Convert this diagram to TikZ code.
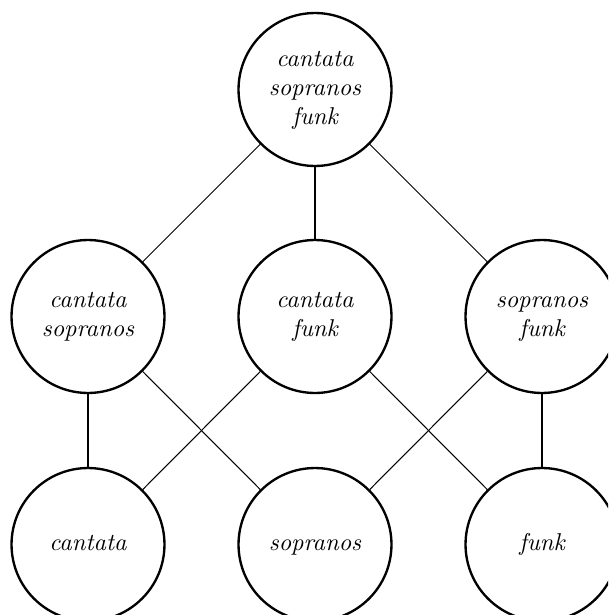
\documentclass[tikz,border=0pt]{standalone}
\begin{document}
\begin{tikzpicture}[x=0.4276pt,y=-0.4276pt,
  setnode/.style={circle,draw,line width=1pt,minimum size=65.4pt,inner sep=0pt,
    align=center,font=\fontsize{10.4}{12.4}\selectfont\itshape},
  link/.style={line width=0.45pt}]
\useasboundingbox (0,0) rectangle (608,615);
\clip (0,0) rectangle (608,615);
% top: the full set
\node[setnode] (csf) at (315,89.5) {cantata\strut\\sopranos\strut\\funk\strut};
% middle: pairs
\node[setnode] (cs) at (88,316.5) {cantata\strut\\sopranos\strut};
\node[setnode] (cf) at (315,316.5) {cantata\strut\\funk\strut};
\node[setnode] (sf) at (542,316.5) {sopranos\strut\\funk\strut};
% bottom: singletons
\node[setnode] (c) at (88,544.5) {cantata\strut};
\node[setnode] (s) at (315,544.5) {sopranos\strut};
\node[setnode] (f) at (542,544.5) {funk\strut};
% inclusion links
\draw[link] (csf) -- (cs);
\draw[link] (csf) -- (cf);
\draw[link] (csf) -- (sf);
\draw[link] (cs) -- (c);
\draw[link] (cs) -- (s);
\draw[link] (cf) -- (c);
\draw[link] (cf) -- (f);
\draw[link] (sf) -- (s);
\draw[link] (sf) -- (f);
\end{tikzpicture}
\end{document}
